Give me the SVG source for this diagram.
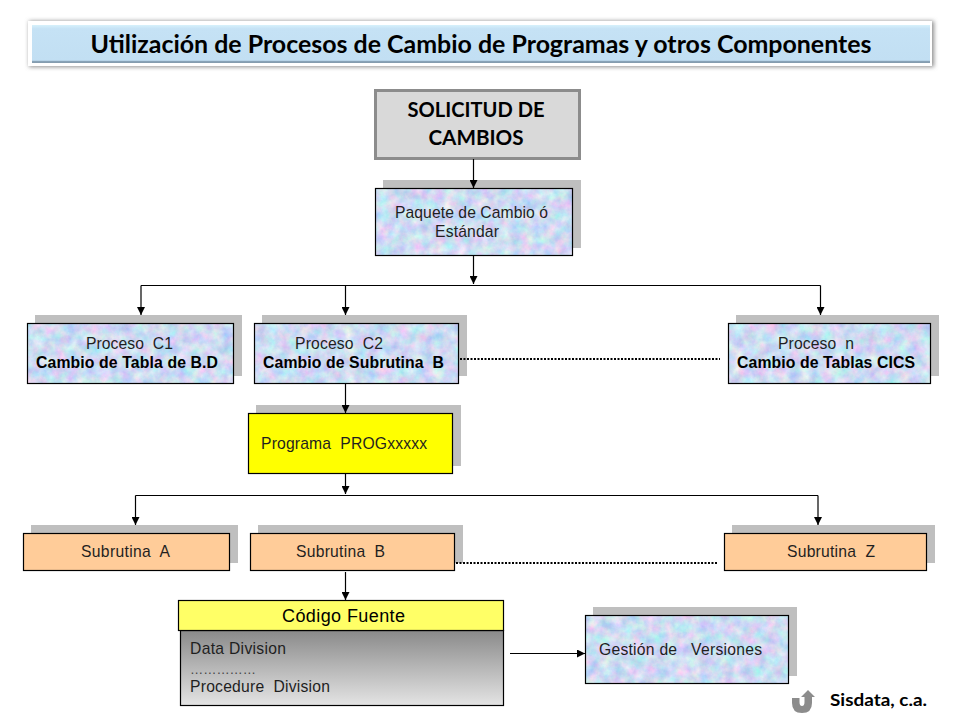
<svg xmlns="http://www.w3.org/2000/svg" width="960" height="720" viewBox="0 0 960 720">
<style>
.shadow{fill:#bfbfbf}
.box{stroke:#000;stroke-width:1.2}
.tex{fill:#bcd4f2;filter:url(#bouquet)}
.frame{fill:none;stroke:#000;stroke-width:1.2}
.t{font-family:"Liberation Sans",Arial,sans-serif;font-size:15.7px;fill:#1f1f1f;white-space:pre}
.b{font-weight:bold;font-size:15.8px;fill:#000}
.c{font-family:Lato,"Open Sans",sans-serif;font-weight:bold;fill:#000}
.line{fill:none;stroke:#000;stroke-width:1.2}
.dot{fill:none;stroke:#000;stroke-width:2;stroke-dasharray:2 1.5}
</style>
<defs>
<marker id="arrow" viewBox="0 0 10 10" refX="10" refY="5" markerWidth="9" markerHeight="8" markerUnits="userSpaceOnUse" orient="auto"><path d="M0 0L10 5L0 10Z" fill="#000"/></marker>
<filter id="bouquet" x="0" y="0" width="100%" height="100%" color-interpolation-filters="sRGB">
<feTurbulence type="fractalNoise" baseFrequency="0.09" numOctaves="5" seed="7" result="n"/>
<feColorMatrix in="n" type="matrix" values="0.45 0 0 0 0.58  0 0.32 0 0 0.70  0 0 0.12 0 0.89  0 0 0 0 1"/>
<feComposite in2="SourceAlpha" operator="in"/>
</filter>
<filter id="soft" x="-3%" y="-30%" width="106%" height="160%"><feGaussianBlur stdDeviation="2"/></filter>
<linearGradient id="titleFill" x1="0" y1="0" x2="0" y2="1"><stop offset="0" stop-color="#d6f1fb"/><stop offset=".1" stop-color="#c5e2f5"/><stop offset=".93" stop-color="#c2dff3"/><stop offset=".95" stop-color="#8aa5ba"/><stop offset="1" stop-color="#8299ab"/></linearGradient>
<linearGradient id="codeFill" x1="0" y1="0" x2="0" y2="1"><stop offset="0" stop-color="#8a8a8a"/><stop offset="1" stop-color="#e4e4e4"/></linearGradient>
</defs>

<g id="title">
<rect x="29" y="21" width="905" height="46" fill="#8f8f8f" filter="url(#soft)"/>
<rect x="28" y="21" width="904" height="45" fill="#fff"/>
<rect x="32" y="25" width="898" height="38" fill="url(#titleFill)"/>
<text class="c" x="481" y="53" font-size="25" text-anchor="middle" textLength="781" lengthAdjust="spacingAndGlyphs">Utilización de Procesos de Cambio de Programas y otros Componentes</text>
</g>

<g id="solicitud">
<rect x="375.5" y="90.5" width="204" height="68" fill="#d9d9d9" stroke="#8c8c8c" stroke-width="3"/>
<text class="c" x="476" y="117" font-size="20" text-anchor="middle" textLength="137" lengthAdjust="spacingAndGlyphs">SOLICITUD DE</text>
<text class="c" x="476" y="145" font-size="20" text-anchor="middle" textLength="95" lengthAdjust="spacingAndGlyphs">CAMBIOS</text>
</g>

<g id="paquete">
<rect class="shadow" x="383" y="180" width="198" height="68"/>
<rect class="tex" x="375.5" y="188.5" width="197" height="67"/>
<rect class="frame" x="375.5" y="188.5" width="197" height="67"/>
<text class="t" x="395" y="218" textLength="153">Paquete de Cambio ó</text>
<text class="t" x="435" y="237" textLength="64">Estándar</text>
</g>

<g id="proceso-c1">
<rect class="shadow" x="35" y="315" width="207" height="61"/>
<rect class="tex" x="27.5" y="323.5" width="206" height="60"/>
<rect class="frame" x="27.5" y="323.5" width="206" height="60"/>
<text class="t" x="86" y="349" textLength="87">Proceso  C1</text>
<text class="t b" x="36" y="368" textLength="182">Cambio de Tabla de B.D</text>
</g>

<g id="proceso-c2">
<rect class="shadow" x="262" y="315" width="205" height="61"/>
<rect class="tex" x="254.5" y="323.5" width="204" height="60"/>
<rect class="frame" x="254.5" y="323.5" width="204" height="60"/>
<text class="t" x="295" y="349" textLength="88">Proceso  C2</text>
<text class="t b" x="263" y="368" textLength="181">Cambio de Subrutina  B</text>
</g>

<g id="proceso-n">
<rect class="shadow" x="736" y="315" width="203" height="61"/>
<rect class="tex" x="728.5" y="323.5" width="202" height="60"/>
<rect class="frame" x="728.5" y="323.5" width="202" height="60"/>
<text class="t" x="778" y="349" textLength="76">Proceso  n</text>
<text class="t b" x="737" y="368" textLength="178">Cambio de Tablas CICS</text>
</g>

<g id="programa">
<rect class="shadow" x="256" y="405" width="205" height="61"/>
<rect class="box" x="248.5" y="413.5" width="204" height="60" fill="#ffff00"/>
<text class="t" x="261" y="449" textLength="166">Programa  PROGxxxxx</text>
</g>

<g id="subrutina-a">
<rect class="shadow" x="31" y="525" width="207" height="38"/>
<rect class="box" x="23.5" y="533.5" width="206" height="37" fill="#ffcc99"/>
<text class="t" x="81" y="557" textLength="89">Subrutina  A</text>
</g>

<g id="subrutina-b">
<rect class="shadow" x="258" y="525" width="205" height="38"/>
<rect class="box" x="250.5" y="533.5" width="204" height="37" fill="#ffcc99"/>
<text class="t" x="296" y="557" textLength="89">Subrutina  B</text>
</g>

<g id="subrutina-z">
<rect class="shadow" x="732" y="525" width="203" height="38"/>
<rect class="box" x="724.5" y="533.5" width="202" height="37" fill="#ffcc99"/>
<text class="t" x="787" y="557" textLength="88">Subrutina  Z</text>
</g>

<g id="codigo">
<rect class="box" x="180.5" y="630.5" width="323" height="75" fill="url(#codeFill)"/>
<rect class="box" x="178.5" y="600.5" width="325" height="30" fill="#ffff66"/>
<text class="t" x="282" y="622" textLength="123" style="font-size:18px;fill:#000">Código Fuente</text>
<text class="t" x="190" y="654" textLength="96">Data Division</text>
<text class="t" x="190" y="674" style="font-size:13.2px;fill:#444">……………</text>
<text class="t" x="190" y="692" textLength="140">Procedure  Division</text>
</g>

<g id="gestion">
<rect class="shadow" x="593" y="607" width="204" height="69"/>
<rect class="tex" x="585.5" y="615.5" width="203" height="68"/>
<rect class="frame" x="585.5" y="615.5" width="203" height="68"/>
<text class="t" x="599" y="655" textLength="163">Gestión de   Versiones</text>
</g>

<g id="footer">
<path d="M792 698V703Q792 713 802 713Q812 713 812 703V697H815L808 690L801 697H804.500V702Q804.500 706 802 706Q799.500 706 799.500 702V698Z" fill="#8c8c8c"/>
<text class="c" x="830" y="706" font-size="17" textLength="97" lengthAdjust="spacingAndGlyphs">Sisdata, c.a.</text>
</g>

<g id="connectors">
<path class="line" d="M473.5 159V188" marker-end="url(#arrow)"/>
<path class="line" d="M473.5 255V284" marker-end="url(#arrow)"/>
<path class="line" d="M141 285.500H820.500"/>
<path class="line" d="M141 285.500V315" marker-end="url(#arrow)"/>
<path class="line" d="M345.500 285.500V315" marker-end="url(#arrow)"/>
<path class="line" d="M820.500 285.500V315" marker-end="url(#arrow)"/>
<path class="line" d="M345.500 383V413" marker-end="url(#arrow)"/>
<path class="line" d="M345.500 473V494" marker-end="url(#arrow)"/>
<path class="line" d="M135.500 495.500H818"/>
<path class="line" d="M135.500 495.500V525" marker-end="url(#arrow)"/>
<path class="line" d="M818 495.500V525" marker-end="url(#arrow)"/>
<path class="line" d="M345.500 572V600" marker-end="url(#arrow)"/>
<path class="line" d="M510 653.500H585" marker-end="url(#arrow)"/>
<path class="dot" d="M460 359H720"/>
<path class="dot" d="M456 563H717"/>
</g>
</svg>
